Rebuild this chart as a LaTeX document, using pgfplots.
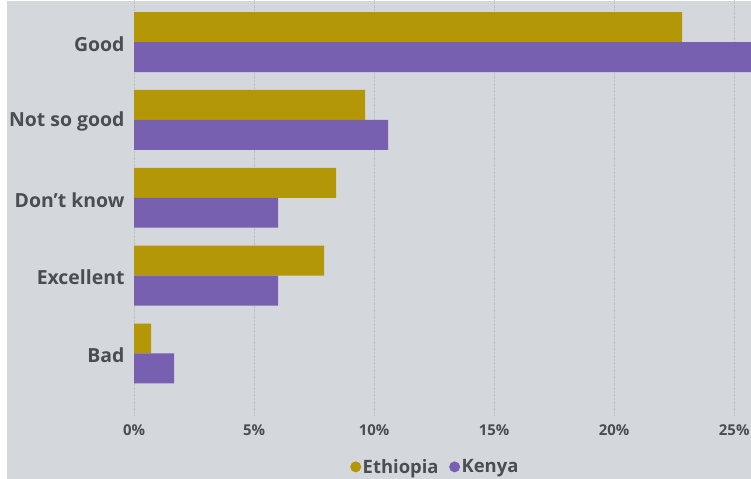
\documentclass[border=0pt]{standalone}
\usepackage{pgfplots}
\pgfplotsset{compat=1.18}
\usepackage{fontspec}
\setmainfont{Open Sans}
\definecolor{bgcol}{HTML}{D4D7DB}
\definecolor{eth}{HTML}{B39706}
\definecolor{ken}{HTML}{7760B0}
\definecolor{txt}{HTML}{4A4E53}
\definecolor{gridc}{HTML}{BCC0C5}
\begin{document}
\begin{tikzpicture}
\useasboundingbox (0,0) rectangle (751bp,479bp);
\fill[bgcol] (7bp,0) rectangle (751bp,478bp);
\begin{axis}[
  at={(134bp,64bp)}, anchor=south west,
  scale only axis, width=617bp, height=415bp,
  xmin=0, xmax=25.7, ymin=-0.79, ymax=4.54,
  axis line style={draw=none},
  major tick length=0pt,
  xtick={0,5,10,15,20,25},
  xticklabels={0\%,5\%,10\%,15\%,20\%,25\%},
  ytick={0,1,2,3,4},
  yticklabels={Bad,Excellent,Don{\char39}t know,Not so good,Good},
  xmajorgrids, grid style={densely dotted, gridc, line width=0.8pt},
  xticklabel style={font=\fontsize{15}{17}\selectfont\bfseries, text=txt, yshift=-6bp},
  yticklabel style={font=\fontsize{19.5}{21}\selectfont\bfseries, text=txt, xshift=-6bp, yshift=-2bp},
  xbar, bar width=0.385,
  legend style={at={(axis description cs:0.488,-0.125)}, anchor=center, draw=none, fill=none,
    legend columns=2, font=\fontsize{18.5}{20}\selectfont\bfseries, text=txt,
    nodes={inner sep=1.5bp},
    /tikz/every even column/.append style={column sep=9bp}},
  legend image code/.code={\fill[#1] (0bp,0bp) circle (5.5bp);},
]
\addplot[fill=eth, draw=none, bar shift=0.1925] coordinates {(0.71,0) (7.92,1) (8.42,2) (9.63,3) (22.83,4)};
\addplot[fill=ken, draw=none, bar shift=-0.1925] coordinates {(1.67,0) (6.0,1) (6.0,2) (10.58,3) (26.5,4)};
\legend{Ethiopia,Kenya}
\end{axis}
\end{tikzpicture}
\end{document}
